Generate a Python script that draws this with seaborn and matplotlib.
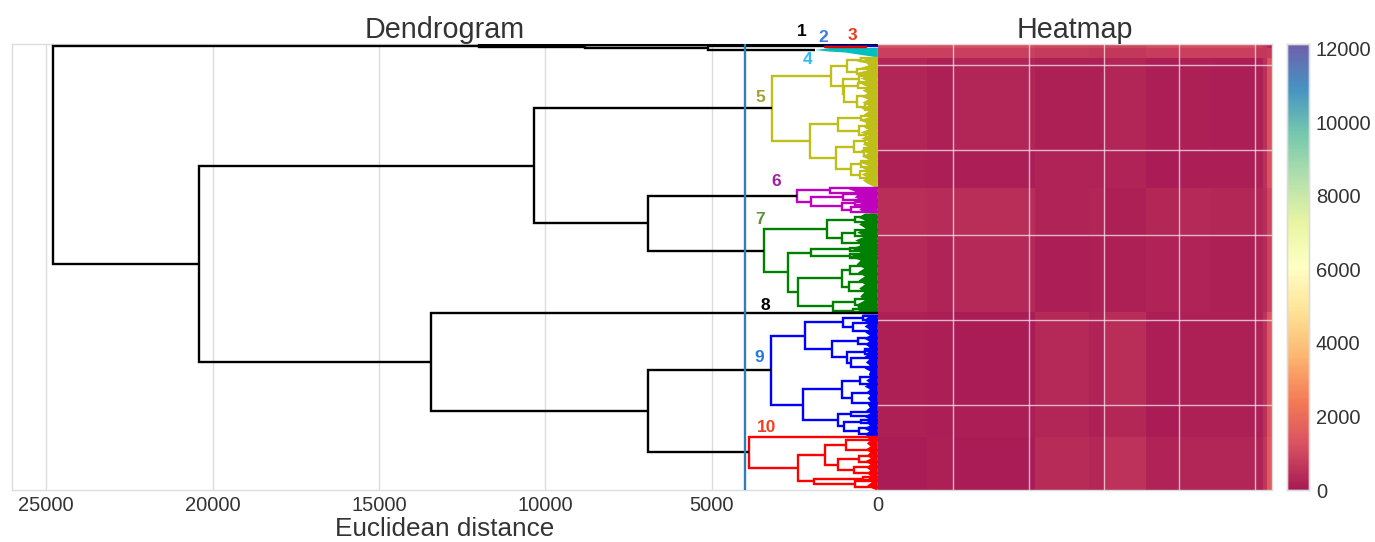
import numpy as np
import matplotlib
matplotlib.use('Agg')
import matplotlib.pyplot as plt
import seaborn as sns

# distance ticks and colorbar ticks
distance_ticks = [25000, 20000, 15000, 10000, 5000, 0]
colorbar_ticks = [0, 2000, 4000, 6000, 8000, 10000, 12000]
colorbar_top = 12130
threshold = 3990

# trees: (merge height, top child, bottom child), a plain number is a leaf position
tree_5 = (3190,
          (1415,
           (930, (520, 58, 61), (630, 69, 74)),
           (1060, (560, 76, 82),
            (1030, (600, 83, 88), (620, (300, 94, 98), (400, 104, 110))))),
          (2050,
           (1190, (500, 116, 119.5), (580, (320, 124, 128), (350, 133, 137))),
           (1270,
            (720, (400, 139, 143), (420, 148, 156)),
            (810, (500, 161, 167), (550, (300, 169, 173), (300, 175, 181))))))
tree_6 = (2440,
          (1440, 187.5, 192.5),
          (2020, (1050, 193.5, 200), (1090, (700, 201.5, 205), (800, 207, 212))))
tree_7 = (3430,
          (1540,
           (690, 217, 222),
           (1070, (690, 229.5, 236), (500, 241, 245))),
          (2700,
           (2020, (830, 247.5, 251), (850, 254, 258)),
           (2390,
            (1090, (840, 266, 274), (870, 282, 291)),
            (1360, (690, 299, 305), (750, 309, 312)))))
tree_9 = (3210,
          (2190,
           (1040, (440, 315.5, 319.5), (750, 323, 331)),
           (1370, (600, 338, 343.5),
            (930, (400, 349, 354), (820, 358, 367)))),
          (2240,
           (1070, (540, 377, 384), (770, 393, 403)),
           (1190, (800, 412, 416),
            (1010, (500, 420, 423), (570, 428, 434)))))
tree_10 = (3890,
           436.8,
           (2390,
            (1600,
             (960, 440, 450),
             (1190, (570, 456, 462), (720, 467, 473))),
            (1910, (450, 477, 480), (690, 481, 487))))

# the two short top clusters
height_23 = 1590
leaf_2 = 45.6
leaf_3 = 46.8
end_3 = 350

# heights of the black merges above the clusters
height_1 = 8800
height_2 = 5100
height_3 = 12000
height_67 = 6900
height_567 = 10350
height_910 = 6900
height_8910 = 13450
height_lower = 20400
height_root = 24800
leaf_1a = 45.0
leaf_1b = 45.3
leaf_8 = 313.3
join_4 = 50.3

# solid part near zero distance: leaf position and width of the packed leaves
band_4_y = [47.5, 49.5, 51, 52, 54, 56, 57]
band_4_w = [1450, 1900, 1500, 1000, 600, 200, 40]
band_5_y = [57, 59, 61, 63, 65, 67, 70, 72, 75, 78, 81, 84, 87, 90, 93, 96, 99, 102, 105, 108, 111, 114, 117,
            120, 123, 126, 129, 132, 135, 138, 141, 144, 147, 150, 153, 156, 159, 162, 165, 168, 171, 174,
            177, 180, 183, 187]
band_5_w = [620, 380, 660, 360, 300, 520, 330, 620, 320, 540, 330, 500, 300, 480, 320, 540, 310, 480, 300,
            520, 300, 440, 300, 580, 320, 470, 310, 540, 300, 520, 310, 470, 290, 540, 310, 500, 300, 580,
            320, 470, 310, 520, 330, 470, 340, 100]
band_6_y = [187, 189, 191, 193, 195, 197, 199, 201, 203, 205, 207, 209, 211, 213]
band_6_w = [1000, 880, 700, 860, 640, 720, 560, 680, 520, 640, 500, 580, 480, 220]
band_7_y = [213, 217, 220, 224, 228, 232, 236, 240, 244, 248, 252, 256, 260, 264, 268, 272, 276, 280, 284,
            288, 292, 296, 300, 304, 308, 313]
band_7_w = [400, 620, 410, 580, 390, 640, 410, 700, 450, 820, 540, 880, 540, 660, 430, 620, 410, 600, 410,
            580, 430, 550, 420, 640, 620, 560]
band_9_y = [314, 317, 320, 323, 326, 329, 332, 335, 338, 341, 344, 347, 350, 353, 356, 359, 362, 365, 368,
            371, 374, 377, 380, 383, 386, 389, 392, 395, 398, 401, 404, 407, 410, 413, 416, 419, 422, 425,
            428, 431, 434, 437]
band_9_w = [480, 320, 450, 290, 420, 280, 400, 260, 440, 280, 400, 270, 460, 260, 420, 280, 380, 260, 420,
            250, 290, 230, 370, 250, 420, 260, 360, 250, 330, 240, 320, 260, 370, 250, 440, 270, 370, 260,
            440, 280, 420, 250]
band_10_y = [437, 440, 443, 446, 449, 452, 455, 458, 461, 464, 467, 470, 473, 476, 479, 482, 485, 488, 489.5]
band_10_w = [340, 250, 350, 240, 390, 250, 350, 230, 420, 240, 370, 250, 340, 220, 330, 210, 340, 190, 90]

# heatmap blocks, rows from top and columns from left (counts of samples)
row_counts = [5, 11, 109, 44, 56, 91, 109, 38, 62]
col_counts = [65, 34, 109, 72, 20, 56, 45, 41, 58, 11, 5, 7]
heat_blocks = [
    [1150, 1100, 1150, 1000, 950, 950, 1100, 1150, 1150, 900, 700, 300],
    [850, 820, 850, 750, 700, 700, 800, 850, 850, 700, 700, 800],
    [280, 180, 250, 170, 150, 240, 100, 150, 110, 180, 480, 1250],
    [160, 110, 120, 190, 190, 230, 60, 130, 110, 180, 480, 1250],
    [430, 390, 430, 220, 260, 180, 290, 350, 290, 280, 450, 950],
    [340, 220, 360, 120, 160, 150, 190, 220, 160, 200, 400, 900],
    [160, 120, 70, 340, 230, 430, 100, 160, 180, 190, 550, 1400],
    [170, 110, 130, 240, 180, 320, 80, 150, 150, 180, 500, 1300],
    [90, 170, 90, 390, 290, 540, 190, 250, 270, 220, 650, 1500],
]

TEXT_COLOR = '#333333'
GRID_COLOR = '#dcdcdc'
LINE_WIDTH = 1.7


def draw_link(ax, height, child_a, child_b, color):
    """Draw one merge and return its (position, height)"""
    y_a, h_a = child_a
    y_b, h_b = child_b
    ax.plot([h_a, height, height, h_b], [y_a, y_a, y_b, y_b], color=color, lw=LINE_WIDTH,
            solid_joinstyle='miter', solid_capstyle='butt', zorder=3)
    return (y_a + y_b) / 2, height


def draw_tree(ax, node, color):
    """Draw a nested tree, a number is a leaf at distance zero"""
    if not isinstance(node, tuple):
        return node, 0
    height, top, bottom = node
    return draw_link(ax, height, draw_tree(ax, top, color), draw_tree(ax, bottom, color), color)


sns.set_style('whitegrid')
plt.rcParams['font.family'] = ['Liberation Sans', 'DejaVu Sans']
plt.rcParams['text.color'] = TEXT_COLOR
plt.rcParams['axes.labelcolor'] = TEXT_COLOR
plt.rcParams['xtick.color'] = TEXT_COLOR
plt.rcParams['ytick.color'] = TEXT_COLOR

W, H = 1375, 542
fig = plt.figure(figsize=(W / 100, H / 100), dpi=100)
ax_den = fig.add_axes([12 / W, (H - 490) / H, 866 / W, 446 / H])
ax_map = fig.add_axes([878 / W, (H - 490) / H, 394 / W, 446 / H])
ax_bar = fig.add_axes([1287 / W, (H - 490) / H, 22 / W, 446 / H])

# dendrogram
ax_den.plot([height_23, 0], [leaf_2, leaf_2], color='#0000cc', lw=LINE_WIDTH, zorder=4)
ax_den.plot([height_23, end_3], [leaf_3, leaf_3], color='#e00000', lw=LINE_WIDTH, zorder=4)
c_23 = ((leaf_2 + leaf_3) / 2, height_23)

ax_den.fill_betweenx(band_4_y, band_4_w, 0, color='#00bfbf', lw=0, zorder=2)
c_4 = (join_4, max(band_4_w))

c_5 = draw_tree(ax_den, tree_5, '#bfbf1a')
c_6 = draw_tree(ax_den, tree_6, '#bf00bf')
c_7 = draw_tree(ax_den, tree_7, '#008000')
c_9 = draw_tree(ax_den, tree_9, '#0000ff')
c_10 = draw_tree(ax_den, tree_10, '#ff0000')
for b_y, b_w, b_c in [(band_5_y, band_5_w, '#bfbf1a'), (band_6_y, band_6_w, '#bf00bf'),
                      (band_7_y, band_7_w, '#008000'), (band_9_y, band_9_w, '#0000ff'),
                      (band_10_y, band_10_w, '#ff0000')]:
    ax_den.fill_betweenx(b_y, b_w, 0, color=b_c, lw=0, zorder=2)

n_2 = draw_link(ax_den, height_2, c_23, c_4, 'black')
n_1 = draw_link(ax_den, height_1, (leaf_1b, 0), n_2, 'black')
n_3 = draw_link(ax_den, height_3, (leaf_1a, 0), n_1, 'black')
n_67 = draw_link(ax_den, height_67, c_6, c_7, 'black')
n_567 = draw_link(ax_den, height_567, c_5, n_67, 'black')
n_910 = draw_link(ax_den, height_910, c_9, c_10, 'black')
n_8910 = draw_link(ax_den, height_8910, (leaf_8, 0), n_910, 'black')
n_lower = draw_link(ax_den, height_lower, n_567, n_8910, 'black')
draw_link(ax_den, height_root, n_3, n_lower, 'black')

ax_den.axvline(threshold, color='#2f80b0', lw=1.7, zorder=5)

cluster_names = ['1', '2', '3', '4', '5', '6', '7', '8', '9', '10']
name_x = [2280, 1650, 780, 2130, 3540, 3060, 3540, 3390, 3570, 3360]
name_y = [32, 37, 36, 59, 97, 181, 219, 305, 357, 427]
name_colors = ['black', '#3b7ddd', '#f03a20', '#2fbfef', '#a0a030', '#a020a0', '#5f8f3f', 'black',
               '#2a78e0', '#f04020']
for name, nx, ny, nc in zip(cluster_names, name_x, name_y, name_colors):
    ax_den.text(nx, ny, name, color=nc, fontsize=12.5, fontweight='bold', ha='center', va='center')

ax_den.set_xlim(26030, 0)
ax_den.set_ylim(490, 44)
ax_den.set_xticks(distance_ticks)
ax_den.set_yticks([])
ax_den.grid(True, axis='x', color=GRID_COLOR, lw=1)
ax_den.tick_params(axis='x', labelsize=14.5, length=0, pad=4)
ax_den.set_xlabel('Euclidean distance', fontsize=18.8, labelpad=2)
ax_den.set_title('Dendrogram', fontsize=20.7, pad=4, y=1.0)

# heatmap
matrix = np.repeat(np.repeat(np.array(heat_blocks, dtype=float), row_counts, axis=0), col_counts, axis=1)
sns.heatmap(matrix, ax=ax_map, cbar_ax=ax_bar, cmap='Spectral', vmin=0, vmax=colorbar_top, alpha=0.9,
            xticklabels=False, yticklabels=False)
n_rows, n_cols = matrix.shape
ax_map.set_xticks(np.arange(100, n_cols, 100))
ax_map.set_yticks(n_rows - np.arange(100, n_rows, 100))
ax_map.tick_params(length=0, labelbottom=False, labelleft=False)
ax_map.set_axisbelow(False)
ax_map.grid(True, color='#f4e8ee', lw=1, alpha=0.75)
ax_map.set_title('Heatmap', fontsize=20.7, pad=4, y=1.0)

ax_bar.set_yticks(colorbar_ticks)
ax_bar.tick_params(labelsize=14.5, length=0, pad=5)
ax_bar.grid(False)

for axis in [ax_den, ax_map, ax_bar]:
    for spine in axis.spines.values():
        spine.set_visible(True)
        spine.set_color(GRID_COLOR)
        spine.set_linewidth(1)
ax_map.spines['left'].set_visible(False)

fig.savefig('out.png', dpi=100)
